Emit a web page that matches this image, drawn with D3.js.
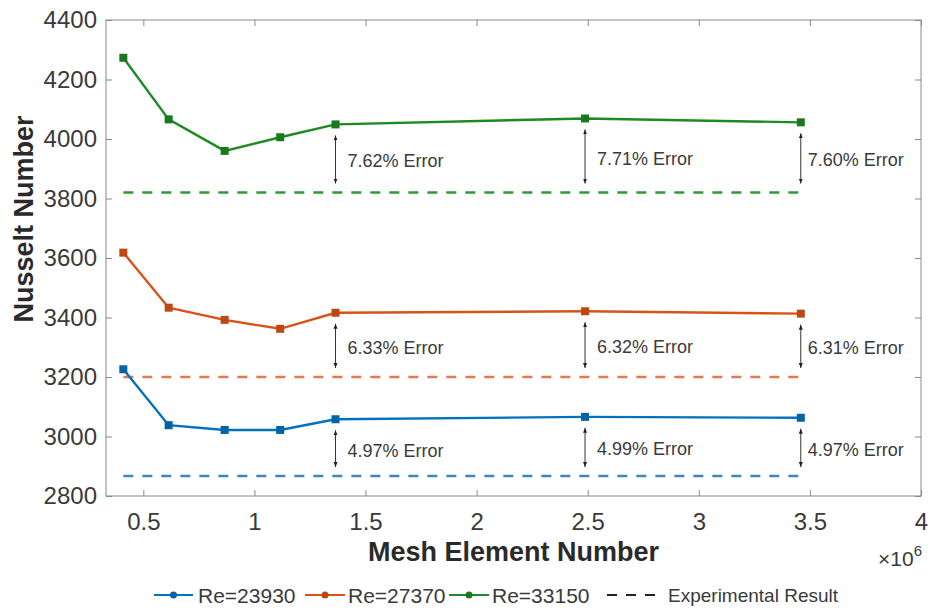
<!DOCTYPE html>
<html>
<head>
<meta charset="utf-8">
<script src="https://cdn.jsdelivr.net/npm/d3@7"></script>
<style>
  html, body { margin: 0; padding: 0; background: #fff; }
  svg { display: block; font-family: "Liberation Sans", Arial, sans-serif; }
</style>
</head>
<body>
<svg id="chart" width="933" height="612"></svg>
<script>
// Mesh element counts (x 10^6)
const meshElements = [0.41, 0.614, 0.866, 1.116, 1.365, 2.488, 3.459];

// Nusselt number for each Reynolds number
const nuRe23930 = [3226, 3038, 3022, 3022, 3058, 3066, 3063];
const nuRe27370 = [3618, 3433, 3392, 3362, 3416, 3421, 3413];
const nuRe33150 = [4273, 4066, 3960, 4006, 4049, 4069, 4056];

// Experimental Nusselt numbers
const expRe23930 = 2867;
const expRe27370 = 3200;
const expRe33150 = 3820;

// Error labels at the last three meshes
const errorIndex = [4, 5, 6];
const errRe23930 = ["4.97% Error", "4.99% Error", "4.97% Error"];
const errRe27370 = ["6.33% Error", "6.32% Error", "6.31% Error"];
const errRe33150 = ["7.62% Error", "7.71% Error", "7.60% Error"];

const seriesNames = ["Re=23930", "Re=27370", "Re=33150"];
const xTicks = [0.5, 1, 1.5, 2, 2.5, 3, 3.5, 4];
const yTicks = [2800, 3000, 3200, 3400, 3600, 3800, 4000, 4200, 4400];

const colors = ["#0072BD", "#D95319", "#1E8A24"];
const dashColors = ["#3f86bb", "#e07a4f", "#2f9a35"];

const series = [
  { name: seriesNames[0], values: nuRe23930, exp: expRe23930, errs: errRe23930 },
  { name: seriesNames[1], values: nuRe27370, exp: expRe27370, errs: errRe27370 },
  { name: seriesNames[2], values: nuRe33150, exp: expRe33150, errs: errRe33150 }
];

const svg = d3.select("#chart");
const L = 106, R = 921, T = 20, B = 496;

const x = d3.scaleLinear().domain([0.332, 4]).range([L, R]);
const y = d3.scaleLinear().domain([2800, 4400]).range([B, T]);

const axisColor = "#8a8a8a";
const labelColor = "#3a3a3a";

// Axes: box with inward ticks on all four sides
const gx = svg.append("g").attr("transform", `translate(0,${B})`)
  .call(d3.axisBottom(x).tickValues(xTicks).tickSizeInner(-6).tickSizeOuter(0).tickPadding(17)
    .tickFormat(d => String(d)));
const gxTop = svg.append("g").attr("transform", `translate(0,${T})`)
  .call(d3.axisTop(x).tickValues(xTicks).tickSizeInner(-6).tickSizeOuter(0).tickFormat(""));
const gy = svg.append("g").attr("transform", `translate(${L},0)`)
  .call(d3.axisLeft(y).tickValues(yTicks).tickSizeInner(-6).tickSizeOuter(0).tickPadding(9)
    .tickFormat(d3.format("d")));
const gyRight = svg.append("g").attr("transform", `translate(${R},0)`)
  .call(d3.axisRight(y).tickValues(yTicks).tickSizeInner(-6).tickSizeOuter(0).tickFormat(""));

[gx, gxTop, gy, gyRight].forEach(g => {
  g.select(".domain").remove();
  g.selectAll(".tick line").attr("stroke", axisColor).attr("stroke-width", 1);
  g.selectAll(".tick text").attr("fill", labelColor).attr("font-size", 24)
    .attr("font-family", "Liberation Sans, Arial, sans-serif");
});

svg.append("rect").attr("x", L).attr("y", T).attr("width", R - L).attr("height", B - T)
  .attr("fill", "none").attr("stroke", axisColor).attr("stroke-width", 1);

// Axis titles
svg.append("text").attr("x", (L + R) / 2).attr("y", 561).attr("text-anchor", "middle")
  .attr("font-size", 27).attr("font-weight", "bold").attr("fill", "#2a2a2a")
  .text("Mesh Element Number");

svg.append("text").attr("transform", "translate(33,219) rotate(-90)").attr("text-anchor", "middle")
  .attr("font-size", 27).attr("font-weight", "bold").attr("fill", "#2a2a2a")
  .text("Nusselt Number");

// Exponent label for x axis
const expo = svg.append("text").attr("x", 922).attr("y", 566).attr("text-anchor", "end")
  .attr("font-size", 21).attr("fill", labelColor);
expo.append("tspan").text("\u00d710");
expo.append("tspan").attr("dy", -10).attr("font-size", 15).text("6");

// Experimental result dashed lines
const xFirst = meshElements[0], xLast = meshElements[meshElements.length - 1];
series.forEach((s, i) => {
  svg.append("line")
    .attr("x1", x(xFirst)).attr("x2", x(xLast))
    .attr("y1", y(s.exp)).attr("y2", y(s.exp))
    .attr("stroke", dashColors[i]).attr("stroke-width", 2.4)
    .attr("stroke-dasharray", "10,9");
});

// Simulated lines with square markers
const line = d3.line().x((d, j) => x(meshElements[j])).y(d => y(d));
series.forEach((s, i) => {
  svg.append("path").datum(s.values).attr("d", line)
    .attr("fill", "none").attr("stroke", colors[i]).attr("stroke-width", 2.4);
  svg.selectAll(null).data(s.values).enter().append("rect")
    .attr("x", (d, j) => x(meshElements[j]) - 4).attr("y", d => y(d) - 4)
    .attr("width", 8).attr("height", 8)
    .attr("fill", d3.color(colors[i]).darker(0.4));
});

// Double-headed arrows with error labels
const defs = svg.append("defs");
["start", "end"].forEach(k => {
  defs.append("marker").attr("id", "ah-" + k)
    .attr("viewBox", "0 0 10 10").attr("refX", 10).attr("refY", 5)
    .attr("markerWidth", 5).attr("markerHeight", 5)
    .attr("orient", k === "start" ? "auto-start-reverse" : "auto")
    .append("path").attr("d", "M0,1 L10,5 L0,9 Z").attr("fill", "#222");
});

const textOffsets = [12, 12, 7];
series.forEach((s, i) => {
  errorIndex.forEach((idx, k) => {
    const xp = x(meshElements[idx]);
    const yTop = y(s.values[idx]) + 11;
    const yBot = y(s.exp) - 9;
    svg.append("line").attr("x1", xp).attr("x2", xp).attr("y1", yTop).attr("y2", yBot)
      .attr("stroke", "#333").attr("stroke-width", 1)
      .attr("marker-start", "url(#ah-start)").attr("marker-end", "url(#ah-end)");
    svg.append("text").attr("x", xp + textOffsets[k]).attr("y", (yTop + yBot) / 2 + 8)
      .attr("font-size", 18).attr("fill", "#3a3a3a").text(s.errs[k]);
  });
});

// Legend
const legendY = 595;
const legendItems = [
  { x1: 154, x2: 193, tx: 198 },
  { x1: 305, x2: 345, tx: 348 },
  { x1: 449, x2: 489, tx: 492 }
];
legendItems.forEach((it, i) => {
  svg.append("line").attr("x1", it.x1).attr("x2", it.x2).attr("y1", legendY).attr("y2", legendY)
    .attr("stroke", colors[i]).attr("stroke-width", 2.2);
  svg.append("circle").attr("cx", (it.x1 + it.x2) / 2).attr("cy", legendY).attr("r", 3.5)
    .attr("fill", d3.color(colors[i]).darker(0.4));
  svg.append("text").attr("x", it.tx).attr("y", legendY + 8).attr("font-size", 21)
    .attr("fill", labelColor).text(seriesNames[i]);
});
svg.append("line").attr("x1", 607).attr("x2", 655).attr("y1", legendY).attr("y2", legendY)
  .attr("stroke", "#222").attr("stroke-width", 2.2).attr("stroke-dasharray", "10,9");
svg.append("text").attr("x", 668).attr("y", legendY + 7).attr("font-size", 19)
  .attr("fill", labelColor).text("Experimental Result");
</script>
</body>
</html>
